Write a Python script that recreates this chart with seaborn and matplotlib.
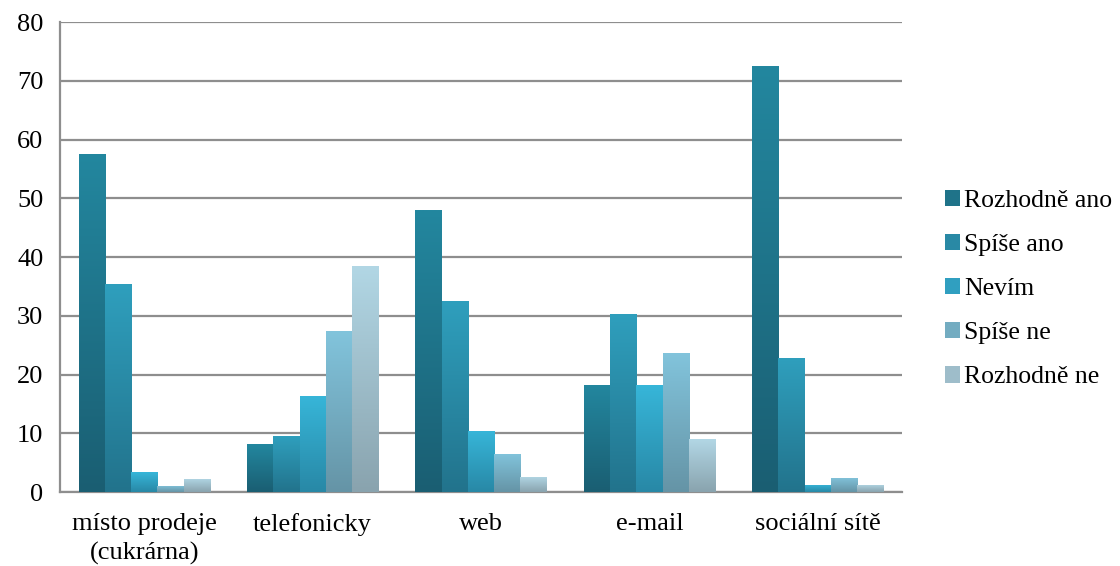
import numpy as np
import pandas as pd
import matplotlib
matplotlib.use("Agg")
import matplotlib.pyplot as plt
from matplotlib.colors import LinearSegmentedColormap
from matplotlib.patches import Patch
import seaborn as sns

categories = ["místo prodeje\n(cukrárna)", "telefonicky", "web", "e-mail", "sociální sítě"]
series = ["Rozhodně ano", "Spíše ano", "Nevím", "Spíše ne", "Rozhodně ne"]
rozhodne_ano = [57.6, 8.1, 48.0, 18.3, 72.5]
spise_ano = [35.4, 9.5, 32.5, 30.3, 22.8]
nevim = [3.4, 16.4, 10.4, 18.3, 1.2]
spise_ne = [1.1, 27.4, 6.5, 23.7, 2.4]
rozhodne_ne = [2.3, 38.5, 2.6, 9.0, 1.2]
y_ticks = [0, 10, 20, 30, 40, 50, 60, 70, 80]

# top / bottom colours of each series' vertical gradient
top_colors = ["#23879f", "#2f9fbd", "#37b6d9", "#82c4dc", "#b2d7e5"]
bottom_colors = ["#1a5e72", "#22738c", "#2888a6", "#6594a6", "#89a3ae"]

values = [rozhodne_ano, spise_ano, nevim, spise_ne, rozhodne_ne]
df = pd.DataFrame(
    [(c, s, v) for s, vals in zip(series, values) for c, v in zip(categories, vals)],
    columns=["kategorie", "odpověď", "hodnota"],
)

sns.set_theme(style="white")
plt.rcParams["font.family"] = ["Liberation Serif", "DejaVu Serif"]
plt.rcParams["text.color"] = "black"

fig = plt.figure(figsize=(11.2, 5.66), dpi=100)
ax = fig.add_axes([0.0536, 0.1307, 0.7518, 0.8303])

mid_colors = [
    tuple((np.array(matplotlib.colors.to_rgb(t)) + np.array(matplotlib.colors.to_rgb(b))) / 2)
    for t, b in zip(top_colors, bottom_colors)
]
sns.barplot(
    data=df, x="kategorie", y="hodnota", hue="odpověď",
    order=categories, hue_order=series, palette=mid_colors,
    width=0.78, dodge=True, saturation=1, legend=False, ax=ax,
    linewidth=0, zorder=3,
)

# vertical gradient fill for every bar
grad = np.linspace(0, 1, 256).reshape(-1, 1)
for container, top, bottom in zip(ax.containers, top_colors, bottom_colors):
    cmap = LinearSegmentedColormap.from_list("g", [bottom, top])
    for bar in container:
        x0, y0 = bar.get_x(), bar.get_y()
        w, h = bar.get_width(), bar.get_height()
        im = ax.imshow(grad, cmap=cmap, origin="lower", aspect="auto",
                       extent=(x0, x0 + w, y0, y0 + h), zorder=3.5,
                       interpolation="bilinear")
        im.set_clip_path(bar)

ax.set_xlim(-0.5, len(categories) - 0.5)
ax.set_ylim(0, 80)

grid_color = "#8e8e8e"
ax.set_yticks(y_ticks)
ax.set_yticklabels([str(t) for t in y_ticks], fontsize=19)
ax.yaxis.grid(True, color=grid_color, linewidth=1.6, zorder=0)
ax.set_axisbelow(True)

ax.set_xticks(range(len(categories)))
ax.set_xticklabels(categories, fontsize=19, linespacing=1.4)
ax.tick_params(axis="x", length=0, pad=15)
ax.set_xticks(np.arange(0.5, len(categories), 1.0), minor=True)
ax.tick_params(axis="x", which="minor", length=7, width=1.3, color=grid_color, direction="out")
ax.tick_params(axis="y", length=7, width=1.3, color=grid_color, direction="out", pad=5)
for lbl in ax.get_yticklabels() + ax.get_xticklabels():
    lbl.set_color("black")

ax.set_xlabel("")
ax.set_ylabel("")
for side in ["top", "right"]:
    ax.spines[side].set_visible(False)
for side in ["left", "bottom"]:
    ax.spines[side].set_color(grid_color)
    ax.spines[side].set_linewidth(1.6)

handles = [Patch(facecolor=c, edgecolor="none") for c in mid_colors]
leg = fig.legend(handles, series, loc="center left", bbox_to_anchor=(0.832, 0.489),
                 frameon=False, fontsize=18.5, handlelength=0.6, handleheight=0.6,
                 handletextpad=0.15, labelspacing=0.85, borderpad=0)
for t in leg.get_texts():
    t.set_color("black")

fig.savefig("out.png", dpi=100, facecolor="white")
